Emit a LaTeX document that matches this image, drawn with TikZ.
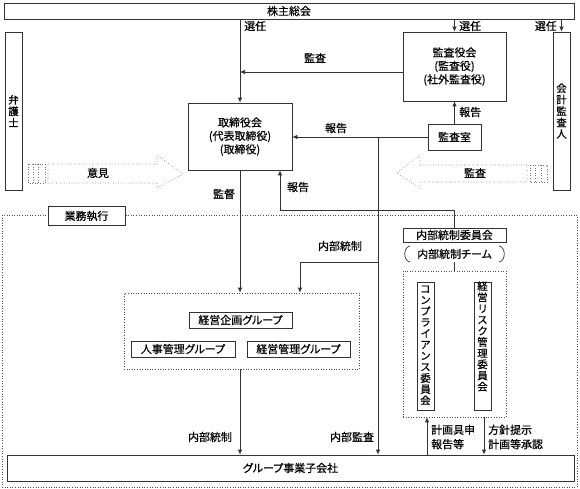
\documentclass[tikz,border=0pt]{standalone}
\usepackage{fontspec}
\setmainfont{Noto Sans CJK JP}[FakeBold=0.5,RawFeature=+palt]
\usetikzlibrary{arrows.meta}
\begin{document}
\begin{tikzpicture}[x=1bp,y=-1bp,
  font=\fontsize{11}{13.5}\selectfont,
  box/.style={draw=black!80,line width=0.7pt,fill=white,inner sep=0pt,align=center},
  dotbox/.style={draw=black!70,line width=0.6pt,dotted,inner sep=0pt},
  vbox/.style={box,minimum width=17bp,minimum height=128bp,font=\fontsize{10.5}{11.2}\selectfont},
  arr/.style={draw=black!80,line width=0.7pt,-{Latex[length=5bp,width=4.5bp]}},
  ln/.style={draw=black!80,line width=0.7pt},
  lbl/.style={inner sep=1pt,align=left,font=\fontsize{11}{14.5}\selectfont}]
\useasboundingbox (0,0) rectangle (580,489);
% outer dotted area
\node[dotbox,minimum width=575bp,minimum height=272bp] (outer) at (289.5,351) {};
% main nodes
\node[box,minimum width=570bp,minimum height=16bp] (gm) at (289,11) {株主総会};
\node[box,minimum width=17bp,minimum height=158bp,font=\fontsize{10.5}{11.5}\selectfont] (lawyer) at (13.5,111) {弁\\護\\士};
\node[box,minimum width=17bp,minimum height=158bp,font=\fontsize{10.5}{11.5}\selectfont] (auditor) at (561.5,111) {会\\計\\監\\査\\人};
\node[box,minimum width=103bp,minimum height=69bp] (kansa) at (454.5,66.5) {監査役会\\(監査役)\\(社外監査役)};
\node[box,minimum width=104bp,minimum height=67bp] (board) at (240,136.5) {取締役会\\(代表取締役)\\(取締役)};
\node[box,minimum width=53bp,minimum height=26bp] (audroom) at (454.5,137) {監査室};
\node[box,minimum width=77bp,minimum height=19bp] (exec) at (86.5,216) {業務執行};
\node[box,minimum width=103bp,minimum height=14bp] (icc) at (454.5,235) {内部統制委員会};
\node[inner sep=0pt,minimum width=103bp,minimum height=16bp] (team) at (454.5,254) {内部統制チーム};
\draw[ln] (410,246) .. controls (403,247) and (403,261) .. (410,262);
\draw[ln] (499,246) .. controls (506,247) and (506,261) .. (499,262);
\node[dotbox,minimum width=103bp,minimum height=146bp] (riskbox) at (454.5,344) {};
\node[vbox,anchor=north] (comp) at (425.5,282) {\\[-6pt]コ\\ン\\プ\\ラ\\イ\\ア\\ン\\ス\\委\\員\\会};
\node[vbox,anchor=north] (risk) at (482.5,282) {\\[-6pt]経\\営\\リ\\ス\\ク\\管\\理\\委\\員\\会\\[6pt]};
\node[dotbox,minimum width=235bp,minimum height=76bp] (grp) at (241.5,331) {};
\node[box,minimum width=103bp,minimum height=16bp] (plan) at (240.5,320) {経営企画グループ};
\node[box,minimum width=104bp,minimum height=16bp] (hr) at (183,349) {人事管理グループ};
\node[box,minimum width=103bp,minimum height=16bp] (mg) at (298.5,349) {経営管理グループ};
\node[box,minimum width=567bp,minimum height=26bp] (sub) at (290.5,468) {グループ事業子会社};
% block arrows
\begin{scope}[draw=black!55,line width=0.6pt,dotted]
\draw (28,164) rectangle (45,183);
\draw (33,164) -- (33,183) (38.5,164) -- (38.5,183);
\draw (48,164) -- (157,164) -- (157,155) -- (183,174) -- (157,188) -- (157,183) -- (48,183) -- cycle;
\draw (530,165) rectangle (547,182);
\draw (535,165) -- (535,182) (541,165) -- (541,182);
\draw (527,165) -- (420,165) -- (420,155) -- (397,173) -- (420,188) -- (420,182) -- (527,182) -- cycle;
\end{scope}
\node (lopinion) at (98,173) {意見};
\node (laudit) at (475,173) {監査};
% connectors
\draw[arr] (gm.south -| board) -- (board.north);
\node[lbl,anchor=west] (l1) at (243,26) {選任};
\draw[arr] (gm.south -| kansa) -- (kansa.north);
\node[lbl,anchor=west] (l2) at (458,26) {選任};
\draw[arr] (gm.south -| auditor) -- (auditor.north);
\node[lbl,anchor=east] (l3) at (558,26) {選任};
\coordinate (k1) at (403,72);
\draw[arr] (k1) -- (k1 -| board);
\node (l4) at (315,58) {監査};
\draw[arr] (audroom.north) -- (kansa.south);
\node[lbl,anchor=west] (l5) at (458,112) {報告};
\draw[arr] (audroom.west) -- (audroom.west -| board.east);
\node (l6) at (336,128) {報告};
\coordinate (j1) at (378,137);
\draw[arr] (j1) -- (j1 |- sub.north);
\node (l7) at (352,437) {内部監査};
\coordinate (j2) at (378,262);
\coordinate (j3) at (300,262);
\draw[arr] (j2) -- (j3) -- (j3 |- grp.north);
\node (l8) at (340,246) {内部統制};
\draw[arr] (board.south) -- (board.south |- grp.north);
\node (l9) at (224,194) {監督};
\coordinate (r1) at (454.5,210);
\coordinate (r2) at (280,210);
\draw[arr] (icc.north) -- (r1) -- (r2) -- (r2 |- board.south);
\node (l10) at (298,187) {報告};
\draw[arr] (grp.south -| board.south) -- (sub.north -| board.south);
\node (l11) at (210,437) {内部統制};
\draw[ln] (team.south) -- (riskbox.north);
\coordinate (u1) at (427,0);
\coordinate (u2) at (484,0);
\draw[arr] (u1 |- sub.north) -- (u1 |- riskbox.south);
\draw[arr] (u2 |- riskbox.south) -- (u2 |- sub.north);
\node[lbl,anchor=west] (l12) at (430,437) {計画具申\\報告等};
\node[lbl,anchor=west] (l13) at (487,437) {方針提示\\計画等承認};
\end{tikzpicture}
\end{document}
